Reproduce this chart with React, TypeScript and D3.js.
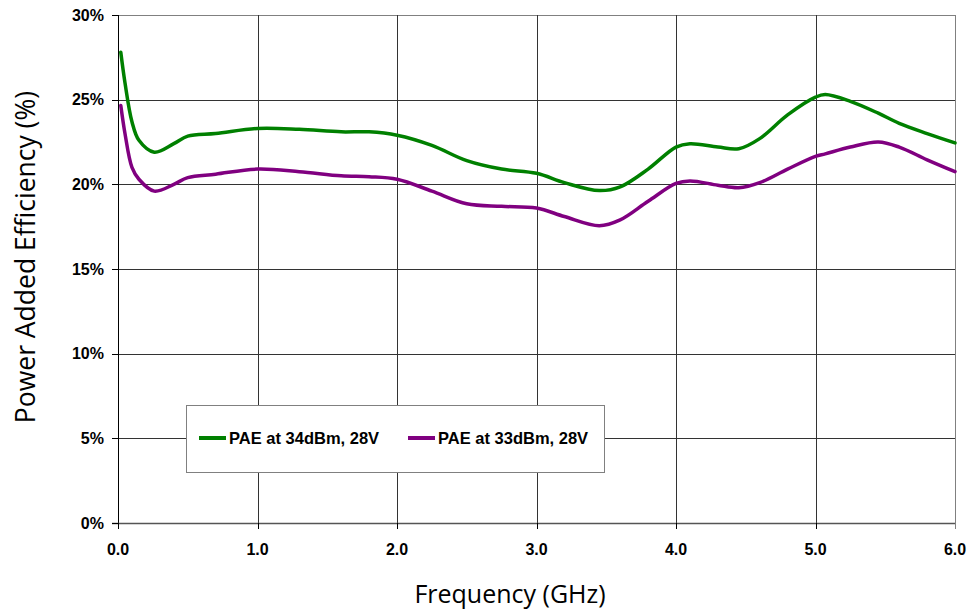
import React from 'react';
import * as d3 from 'd3';

// frequency points (GHz)
const freqs = [0.02, 0.05, 0.1, 0.15, 0.26, 0.4, 0.5, 0.7, 1.0, 1.3, 1.6, 1.8, 2.0, 2.25, 2.5, 2.75, 3.0, 3.2, 3.45, 3.6, 3.8, 4.0, 4.1, 4.3, 4.45, 4.6, 4.8, 5.0, 5.07, 5.25, 5.45, 5.6, 5.8, 6.0];
const pae34 = [27.8, 26.0, 23.7, 22.6, 21.9, 22.4, 22.85, 23.0, 23.3, 23.25, 23.1, 23.1, 22.9, 22.3, 21.4, 20.9, 20.65, 20.1, 19.63, 19.85, 20.9, 22.2, 22.4, 22.2, 22.1, 22.7, 24.1, 25.15, 25.3, 24.9, 24.2, 23.6, 23.0, 22.45];
const pae33 = [24.65, 23.0, 21.0, 20.3, 19.6, 20.0, 20.4, 20.6, 20.9, 20.75, 20.5, 20.45, 20.3, 19.6, 18.85, 18.7, 18.6, 18.1, 17.56, 17.9, 19.0, 20.05, 20.2, 19.95, 19.8, 20.1, 20.9, 21.65, 21.8, 22.2, 22.5, 22.2, 21.45, 20.75];

const xTicks = [0, 1, 2, 3, 4, 5, 6];
const yTicks = [0, 5, 10, 15, 20, 25, 30];
const seriesNames = ['PAE at 34dBm, 28V', 'PAE at 33dBm, 28V'];
const seriesColors = ['#008000', '#800080'];

const W = 969;
const H = 612;
const M = { left: 118, right: 955, top: 15, bottom: 523 };

export default function App() {
  const x = d3.scaleLinear().domain([0, 6]).range([M.left, M.right]);
  const y = d3.scaleLinear().domain([0, 30]).range([M.bottom, M.top]);

  const line = d3
    .line<[number, number]>()
    .x((d) => x(d[0]))
    .y((d) => y(d[1]))
    .curve(d3.curveCatmullRom.alpha(0.5));

  const series = [pae34, pae33].map((vals) => freqs.map((f, i) => [f, vals[i]] as [number, number]));

  const tickFont = { fontFamily: 'Liberation Sans, Arial, sans-serif', fontWeight: 700, fontSize: 16 };

  return (
    <svg width={W} height={H} style={{ position: 'absolute', left: 0, top: 0 }}>
      <rect width={W} height={H} fill="#fff" />
      {/* grid */}
      {yTicks.map((t) => (
        <line key={'gy' + t} x1={M.left} x2={M.right} y1={Math.round(y(t)) + 0.5} y2={Math.round(y(t)) + 0.5}
          stroke={t === 30 ? '#808080' : '#333'} strokeWidth={1} />
      ))}
      {xTicks.map((t) => (
        <line key={'gx' + t} x1={Math.round(x(t)) + 0.5} x2={Math.round(x(t)) + 0.5} y1={M.top} y2={M.bottom}
          stroke={t === 6 ? '#808080' : '#333'} strokeWidth={1} />
      ))}
      {/* axes */}
      <line x1={Math.round(M.left) + 0.5} x2={Math.round(M.left) + 0.5} y1={M.top} y2={M.bottom + 6} stroke="#000" />
      <line x1={M.left - 6} x2={M.right} y1={Math.round(M.bottom) + 0.5} y2={Math.round(M.bottom) + 0.5} stroke="#555" strokeWidth={1.5} />
      {yTicks.map((t) => (
        <g key={'ty' + t}>
          <line x1={M.left - 6} x2={M.left} y1={Math.round(y(t)) + 0.5} y2={Math.round(y(t)) + 0.5} stroke="#000" />
          <text x={104} y={y(t) + 5.5} textAnchor="end" {...tickFont}>{t}%</text>
        </g>
      ))}
      {xTicks.map((t) => (
        <g key={'tx' + t}>
          <line x1={Math.round(x(t)) + 0.5} x2={Math.round(x(t)) + 0.5} y1={M.bottom} y2={M.bottom + 6} stroke={t === 6 ? '#808080' : '#000'} />
          <text x={x(t)} y={555} textAnchor="middle" {...tickFont}>{t.toFixed(1)}</text>
        </g>
      ))}
      {/* lines */}
      {series.map((s, i) => (
        <path key={'s' + i} d={line(s) || ''} fill="none" stroke={seriesColors[i]} strokeWidth={3.5} strokeLinejoin="round" strokeLinecap="round" />
      ))}
      {/* legend */}
      <rect x={186.5} y={405.5} width={418} height={67} fill="#fff" stroke="#808080" strokeWidth={1} />
      {seriesNames.map((n, i) => {
        const lx = i === 0 ? 199 : 408;
        return (
          <g key={'lg' + i}>
            <line x1={lx} x2={lx + 27} y1={438} y2={438} stroke={seriesColors[i]} strokeWidth={4} />
            <text x={lx + 30} y={444} fontFamily="Liberation Sans, Arial, sans-serif" fontWeight={700} fontSize={16.5}>{n}</text>
          </g>
        );
      })}
      {/* axis titles */}
      <text x={510} y={603} textAnchor="middle" fontFamily="Open Sans, Noto Sans, sans-serif" fontSize={25}>Frequency (GHz)</text>
      <text transform={`translate(35, ${257}) rotate(-90)`} textAnchor="middle" fontFamily="Open Sans, Noto Sans, sans-serif" fontSize={26.5}>Power Added Efficiency (%)</text>
    </svg>
  );
}
